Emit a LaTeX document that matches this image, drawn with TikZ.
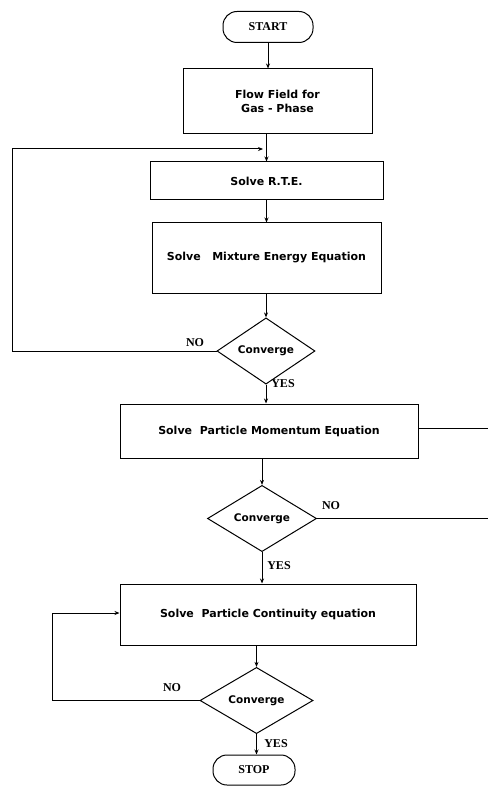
\documentclass[tikz,border=0pt]{standalone}
\usepackage{fontspec}
\setmainfont{DejaVu Sans}
\newfontfamily\lblfont{Liberation Serif}
\usetikzlibrary{shapes.geometric,arrows.meta}
\begin{document}
\begin{tikzpicture}[x=1pt,y=-1pt,line width=1pt,
  box/.style={draw,rectangle,inner sep=0pt,font=\bfseries\fontsize{11}{14}\selectfont,align=center},
  term/.style={draw,rectangle,rounded corners=14pt,inner sep=0pt,font=\lblfont\bfseries\fontsize{12}{14}\selectfont},
  dec/.style={draw,diamond,inner sep=0pt,font=\bfseries\fontsize{10.5}{12}\selectfont},
  lbl/.style={font=\lblfont\bfseries\fontsize{12}{14}\selectfont,inner sep=0pt},
  arr/.style={-{Stealth[length=5pt,width=4pt]}},
  ln/.style={line width=1pt}]
\useasboundingbox (0,0) rectangle (488,786);
\node[term,minimum width=90pt,minimum height=31pt] (start) at (268,27) {START};
\node[box,minimum width=189pt,minimum height=65pt] (flow) at (277.5,101.5) {Flow Field for\\Gas - Phase};
\node[box,minimum width=233pt,minimum height=38pt] (rte) at (266.5,181) {Solve R.T.E.};
\node[box,minimum width=229pt,minimum height=70pt] (mix) at (266.5,258) {Solve\ \ \ Mixture Energy Equation};
\node[dec,minimum width=98pt,minimum height=45pt] (d1) at (266,351) {Converge};
\node[box,minimum width=298pt,minimum height=54pt] (mom) at (269,431) {Solve\ \ Particle Momentum Equation};
\node[dec,minimum width=109pt,minimum height=55pt] (d2) at (262,518.5) {Converge};
\node[box,minimum width=296pt,minimum height=61pt] (cont) at (268,614.5) {Solve\ \ Particle Continuity equation};
\node[dec,minimum width=113pt,minimum height=53pt] (d3) at (256.5,700.5) {Converge};
\node[term,minimum width=82pt,minimum height=30pt] (stop) at (254,770) {STOP};
% main flow
\draw[arr] (start.south) -- (start |- flow.north);
\draw[arr] (rte |- flow.south) -- (rte.north);
\draw[arr] (rte.south -| mix) -- (mix.north);
\draw[arr] (mix.south -| d1) -- (d1.north);
\draw[arr] (d1.south) -- (d1 |- mom.north);
\draw[arr] (d2 |- mom.south) -- (d2.north);
\draw[arr] (d2.south) -- (d2 |- cont.north);
\draw[arr] (d3 |- cont.south) -- (d3.north);
\draw[arr] (d3.south) -- (d3 |- stop.north);
% loop 1
\coordinate (l1) at (12,149);
\coordinate (j1) at (263,149);
\draw[arr] (d1.west) -| (l1) -- (j1);
% loop 2 (runs off the right edge)
\coordinate (r1) at (488,428);
\coordinate (r2) at (488,518.5);
\draw (mom.east |- r1) -- (r1);
\draw (d2.east) -- (r2);
% loop 3
\coordinate (l3) at (52,613);
\draw[arr] (d3.west) -| (l3) -- (cont.west |- l3);
% labels
\node[lbl] (no1) at (195,343) {NO};
\node[lbl] (yes1) at (283,384) {YES};
\node[lbl] (no2) at (331,506) {NO};
\node[lbl] (yes2) at (279,566) {YES};
\node[lbl] (no3) at (172,688) {NO};
\node[lbl] (yes3) at (276,744) {YES};
\end{tikzpicture}
\end{document}
